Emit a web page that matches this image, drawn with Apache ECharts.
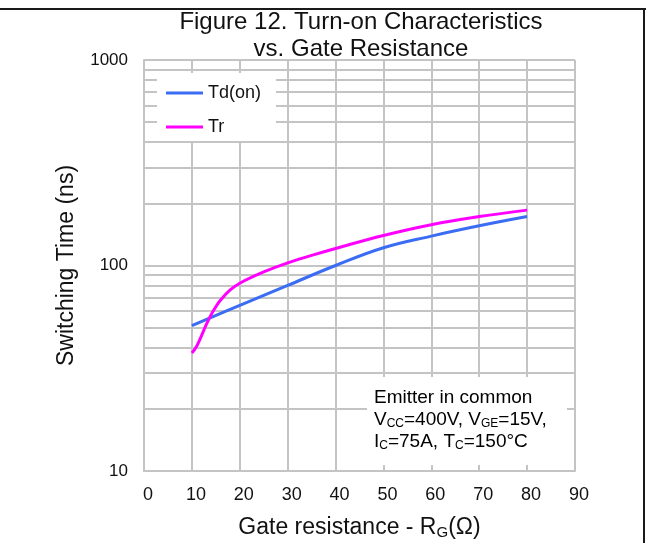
<!DOCTYPE html>
<html>
<head>
<meta charset="utf-8">
<script src="https://cdn.jsdelivr.net/npm/echarts@6/dist/echarts.min.js"></script>
<style>html,body{margin:0;padding:0;background:#fff;}#c{width:646px;height:543px;}</style>
</head>
<body>
<div id="c"></div>
<script>
// ---- data ----
var tdX = [10, 20, 30, 40, 50, 60, 70, 80];
var tdY = [51, 64, 80, 100, 122, 139, 156, 173];
var trX = [10, 11, 12, 13, 14, 15, 16, 18, 20, 25, 30, 35, 40, 50, 60, 70, 80];
var trY = [37.5, 40.5, 45.5, 51.5, 57.5, 63, 68, 76, 82, 93, 103, 112, 121, 140, 158, 173, 186];
var xTicks = [0, 10, 20, 30, 40, 50, 60, 70, 80, 90];
var yTicks = [10, 100, 1000];
var minorGrid = [20, 30, 40, 50, 60, 70, 80, 90, 200, 300, 400, 500, 600, 700, 800, 900];
var seriesNames = ['Td(on)', 'Tr'];

function pairs(xs, ys) { return xs.map(function (x, i) { return [x, ys[i]]; }); }

var FONT = '"Liberation Sans", Arial, sans-serif';
var GRID_C = '#c4c4c4';

var chart = echarts.init(document.getElementById('c'), null, { renderer: 'canvas' });
chart.setOption({
  animation: false,
  backgroundColor: '#fff',
  textStyle: { fontFamily: FONT },
  grid: { left: 144, right: 71, top: 60, bottom: 72, show: false, containLabel: false, outerBoundsMode: 'none' },
  legend: {
    data: seriesNames,
    orient: 'vertical',
    left: 157, top: 73,
    padding: [11, 15, 5, 9],
    backgroundColor: '#fff',
    itemGap: 16,
    itemWidth: 37, itemHeight: 3,
    icon: 'rect',
    z: 10,
    textStyle: { fontFamily: FONT, fontSize: 18, color: '#111' }
  },
  xAxis: {
    type: 'value', min: xTicks[0], max: xTicks[xTicks.length - 1], interval: 10,
    axisLine: { show: true, lineStyle: { color: GRID_C, width: 2 } },
    axisTick: { show: false },
    splitLine: { show: true, lineStyle: { color: GRID_C, width: 2 } },
    axisLabel: { fontFamily: FONT, fontSize: 18, color: '#111', margin: 15, padding: [0, 0, 0, 8] },
    name: '{a|Gate resistance - R}{b|G}{a|(Ω)}',
    nameLocation: 'middle', nameGap: 45,
    nameTextStyle: {
      rich: {
        a: { fontFamily: FONT, fontSize: 23, color: '#111' },
        b: { fontFamily: FONT, fontSize: 15, color: '#111', padding: [9, 0, 0, 0] }
      }
    }
  },
  yAxis: {
    type: 'log', logBase: 10, min: yTicks[0], max: yTicks[yTicks.length - 1],
    axisLine: { show: true, lineStyle: { color: GRID_C, width: 2 } },
    axisTick: { show: false },
    minorTick: { show: false },
    splitLine: { show: true, lineStyle: { color: GRID_C, width: 2 } },
    axisLabel: { fontFamily: FONT, fontSize: 17, color: '#111', margin: 16, padding: [4, 0, 0, 0],
                 formatter: function (v) { return String(v); } },
    name: 'Switching Time (ns)',
    nameLocation: 'middle', nameGap: 66,
    nameTextStyle: { fontFamily: FONT, fontSize: 23, color: '#111' }
  },
  series: [
    {
      type: 'line', name: '_grid', data: [], z: 1, silent: true,
      markLine: {
        silent: true, symbol: 'none', label: { show: false }, z: 1,
        lineStyle: { color: GRID_C, width: 2, type: 'solid' },
        emphasis: { disabled: true },
        animation: false,
        data: minorGrid.map(function (v) { return { yAxis: v }; })
      }
    },
    {
      type: 'line', name: seriesNames[0], data: pairs(tdX, tdY), z: 3,
      symbol: 'none', smooth: 0.4,
      lineStyle: { color: '#3a6cf4', width: 3 }, itemStyle: { color: '#3a6cf4' }
    },
    {
      type: 'line', name: seriesNames[1], data: pairs(trX, trY), z: 3,
      symbol: 'none', smooth: 0.4,
      lineStyle: { color: '#ff00ff', width: 3 }, itemStyle: { color: '#ff00ff' }
    }
  ],
  graphic: [
    { type: 'line', z: 100, shape: { x1: 0, y1: 9, x2: 646, y2: 9 }, style: { stroke: '#1a1a1a', lineWidth: 2 } },
    { type: 'line', z: 100, shape: { x1: 644, y1: 8, x2: 644, y2: 543 }, style: { stroke: '#1a1a1a', lineWidth: 2 } },
    { type: 'text', z: 100, x: 361, y: 9,
      style: { text: 'Figure 12. Turn-on Characteristics\nvs. Gate Resistance', font: '24px ' + FONT,
               fill: '#111', textAlign: 'center', textVerticalAlign: 'top', lineHeight: 27 } },
    { type: 'rect', z: 100, shape: { x: 367, y: 377, width: 200, height: 88 }, style: { fill: '#fff' } },
    { type: 'text', z: 101, x: 374, y: 387,
      style: {
        text: '{n|Emitter in common}\n{n|V}{s|CC}{n|=400V, V}{s|GE}{n|=15V,}\n{n|I}{s|C}{n|=75A, T}{s|C}{n|=150°C}',
        textVerticalAlign: 'top', textAlign: 'left',
        rich: {
          n: { fontFamily: FONT, fontSize: 19, color: '#111', lineHeight: 22 },
          s: { fontFamily: FONT, fontSize: 12, color: '#111', lineHeight: 22, padding: [7, 0, 0, 0] }
        }
      } }
  ]
});
</script>
</body>
</html>
